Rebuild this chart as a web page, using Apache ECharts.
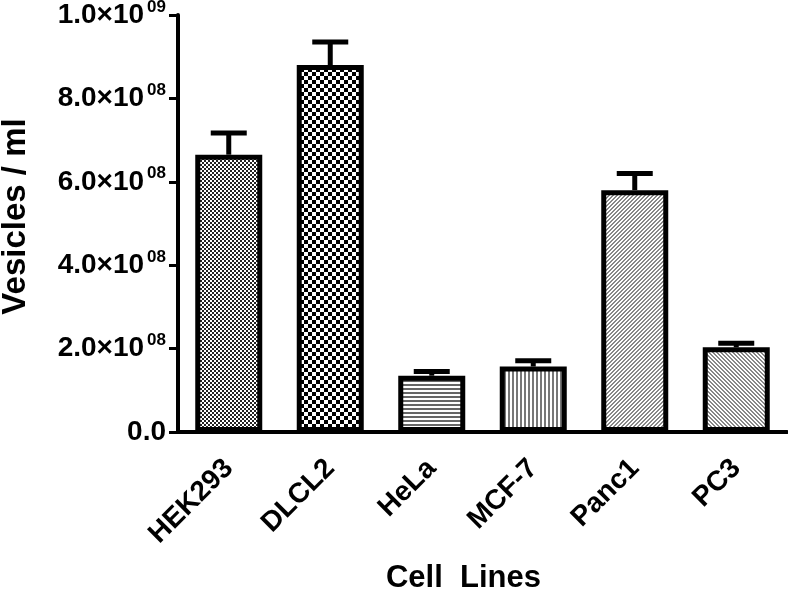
<!DOCTYPE html>
<html>
<head>
<meta charset="utf-8">
<script src="https://cdn.jsdelivr.net/npm/echarts@6/dist/echarts.min.js"></script>
<style>
  html, body { margin: 0; padding: 0; background: #fff; }
  #chart { width: 788px; height: 589px; }
</style>
</head>
<body>
<div id="chart"></div>
<script>
// data
const categories = ['HEK293', 'DLCL2', 'HeLa', 'MCF-7', 'Panc1', 'PC3']
const means = [6.65e8, 8.8e8, 1.35e8, 1.57e8, 5.8e8, 2.03e8]
const errors = [0.52e8, 0.55e8, 0.1e8, 0.14e8, 0.4e8, 0.1e8]
const yTicks = [0, 2e8, 4e8, 6e8, 8e8, 1e9]

const font = 'Liberation Sans, Arial, sans-serif'

// small tile patterns, one per bar
function tile(size, draw) {
  const c = document.createElement('canvas')
  c.width = size
  c.height = size
  const ctx = c.getContext('2d')
  ctx.fillStyle = '#fff'
  ctx.fillRect(0, 0, size, size)
  draw(ctx, size)
  return { image: c, repeat: 'repeat' }
}
function checker(cell, col) {
  return tile(cell * 2, function (ctx) {
    ctx.fillStyle = col
    ctx.fillRect(0, 0, cell, cell)
    ctx.fillRect(cell, cell, cell, cell)
  })
}
function hLines() {
  return tile(4, function (ctx) {
    ctx.fillStyle = '#666'
    ctx.fillRect(0, 0, 4, 2)
  })
}
function vLines() {
  return tile(4, function (ctx) {
    ctx.fillStyle = '#777'
    ctx.fillRect(0, 0, 2, 4)
  })
}
function diag(dir) {
  return tile(4, function (ctx, s) {
    ctx.fillStyle = '#888'
    for (let i = 0; i < s; i++) {
      const x = dir > 0 ? (s - 1 - i) : i
      ctx.fillRect(x, i, 2, 1)
      if (x + 1 >= s) ctx.fillRect(0, i, 1, 1)
    }
  })
}
const patterns = [checker(2, '#222'), checker(4, '#000'), hLines(), vLines(), diag(1), diag(-1)]

function yLabel(v) {
  if (v === 0) return '{m|0.0}'
  const e = Math.floor(Math.log10(v) + 1e-9)
  const m = (v / Math.pow(10, e)).toFixed(1)
  return '{m|' + m + '×10}{s|' + String(e).padStart(2, '0') + '}'
}

const chart = echarts.init(document.getElementById('chart'))
const option = {
  backgroundColor: '#fff',
  animation: false,
  grid: { left: 178, right: 1, top: 15, bottom: 157, containLabel: false, outerBoundsMode: 'none' },
  xAxis: {
    type: 'category',
    data: categories,
    name: 'Cell  Lines',
    nameLocation: 'middle',
    nameGap: 131,
    nameTextStyle: { fontFamily: font, fontWeight: 'bold', fontSize: 31, color: '#000', padding: [0, 38, 0, 0] },
    axisLine: { lineStyle: { color: '#000', width: 4 } },
    axisTick: { alignWithLabel: true, length: 9, lineStyle: { color: '#000', width: 3 } },
    axisLabel: {
      rotate: 45,
      margin: 32,
      fontFamily: font,
      fontWeight: 'bold',
      fontSize: 28,
      color: '#000'
    }
  },
  yAxis: {
    type: 'value',
    min: 0,
    max: 1e9,
    interval: 2e8,
    name: 'Vesicles / ml',
    nameLocation: 'middle',
    nameGap: 146,
    nameRotate: 90,
    nameTextStyle: { fontFamily: font, fontWeight: 'bold', fontSize: 33, color: '#000', padding: [0, 0, 0, 14] },
    splitLine: { show: false },
    axisLine: { show: true, lineStyle: { color: '#000', width: 4 } },
    axisTick: { show: true, length: 9, lineStyle: { color: '#000', width: 3 } },
    axisLabel: {
      margin: 12,
      formatter: function (v) { return yTicks.indexOf(v) >= 0 ? yLabel(v) : '' },
      rich: {
        m: { fontFamily: font, fontWeight: 'bold', fontSize: 28, color: '#000' },
        s: { fontFamily: font, fontWeight: 'bold', fontSize: 17, color: '#000', verticalAlign: 'bottom', padding: [0, 0, 16, 3] }
      }
    }
  },
  series: [
    {
      type: 'bar',
      barWidth: 67,
      data: means.map(function (v, i) {
        return { value: v, itemStyle: { color: patterns[i] } }
      }),
      itemStyle: { borderColor: '#000', borderWidth: 5 },
      z: 2
    },
    {
      type: 'custom',
      data: means.map(function (v, i) { return [i, v, errors[i]] }),
      renderItem: function (params, api) {
        const base = api.coord([api.value(0), api.value(1)])
        const top = api.coord([api.value(0), api.value(1) + api.value(2)])
        const half = 18
        const style = { stroke: '#000', lineWidth: 5 }
        return {
          type: 'group',
          children: [
            { type: 'line', shape: { x1: base[0], y1: base[1], x2: top[0], y2: top[1] }, style: style },
            { type: 'line', shape: { x1: top[0] - half, y1: top[1], x2: top[0] + half, y2: top[1] }, style: style }
          ]
        }
      },
      z: 1
    }
  ]
}
chart.setOption(option)
</script>
</body>
</html>
